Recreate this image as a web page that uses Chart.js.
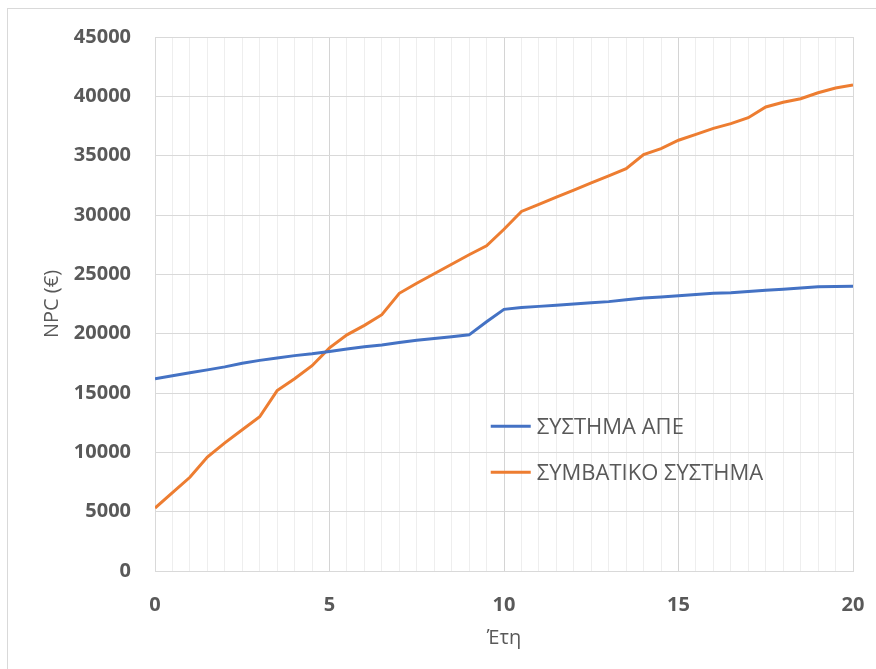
<!DOCTYPE html>
<html>
<head>
<meta charset="utf-8">
<script src="https://cdn.jsdelivr.net/npm/chart.js@4"></script>
<style>
  body { margin: 0; background: #fff; }
  #wrap { position: relative; width: 876px; height: 669px; }
  #frame { position: absolute; left: 7px; top: 8px; width: 880px; height: 680px; border: 1px solid #d9d9d9; pointer-events: none; }
</style>
</head>
<body>
<div id="wrap">
  <canvas id="chart" width="876" height="669"></canvas>
  <div id="frame"></div>
</div>
<script>
// years, every half year
const years = [0, 0.5, 1, 1.5, 2, 2.5, 3, 3.5, 4, 4.5, 5, 5.5, 6, 6.5, 7, 7.5, 8, 8.5, 9, 9.5,
  10, 10.5, 11, 11.5, 12, 12.5, 13, 13.5, 14, 14.5, 15, 15.5, 16, 16.5, 17, 17.5, 18, 18.5, 19, 19.5, 20];

const npcApe = [16200, 16450, 16700, 16950, 17200, 17500, 17750, 17950, 18150, 18300,
  18500, 18700, 18900, 19050, 19250, 19450, 19600, 19750, 19900, 21000,
  22050, 22200, 22300, 22400, 22500, 22600, 22700, 22850, 23000, 23100,
  23200, 23300, 23400, 23450, 23550, 23650, 23750, 23850, 23950, 23980, 24000];

const npcConv = [5300, 6600, 7900, 9600, 10800, 11900, 13000, 15200, 16200, 17300,
  18800, 19900, 20700, 21600, 23400, 24250, 25050, 25850, 26650, 27400,
  28800, 30300, 30900, 31500, 32100, 32700, 33300, 33900, 35100, 35600,
  36300, 36800, 37300, 37700, 38200, 39100, 39500, 39800, 40300, 40700, 40950];

const seriesNames = ["ΣΥΣΤΗΜΑ ΑΠΕ", "ΣΥΜΒΑΤΙΚΟ ΣΥΣΤΗΜΑ"];
const seriesColors = ["#4472C4", "#ED7D31"];

const textColor = "#595959";
const fontFam = "'Open Sans', 'Liberation Sans', sans-serif";

// legend drawn inside the plot, like the original
const insideLegend = {
  id: "insideLegend",
  afterDraw(chart) {
    const ctx = chart.ctx;
    const area = chart.chartArea;
    const x0 = area.left + (area.right - area.left) * 0.481;
    const y0 = area.top + (area.bottom - area.top) * 0.729;
    ctx.save();
    ctx.font = "22px " + fontFam;
    ctx.textBaseline = "middle";
    ctx.textAlign = "left";
    chart.data.datasets.forEach((ds, i) => {
      const y = y0 + i * 46;
      ctx.strokeStyle = ds.borderColor;
      ctx.lineWidth = 3;
      ctx.beginPath();
      ctx.moveTo(x0, y);
      ctx.lineTo(x0 + 40, y);
      ctx.stroke();
      ctx.fillStyle = textColor;
      ctx.fillText(ds.label, x0 + 46, y + 1);
    });
    ctx.restore();
  }
};

// top / right border of the plot
const plotBorder = {
  id: "plotBorder",
  beforeDatasetsDraw(chart) {
    const ctx = chart.ctx;
    const a = chart.chartArea;
    ctx.save();
    ctx.strokeStyle = "#d9d9d9";
    ctx.lineWidth = 1;
    ctx.strokeRect(a.left + 0.5, a.top + 0.5, a.right - a.left, a.bottom - a.top);
    ctx.restore();
  }
};

new Chart(document.getElementById("chart"), {
  type: "line",
  data: {
    datasets: [
      {
        label: seriesNames[0],
        data: years.map((y, i) => ({ x: y, y: npcApe[i] })),
        borderColor: seriesColors[0],
        backgroundColor: seriesColors[0],
        borderWidth: 3,
        pointRadius: 0,
        tension: 0,
        fill: false
      },
      {
        label: seriesNames[1],
        data: years.map((y, i) => ({ x: y, y: npcConv[i] })),
        borderColor: seriesColors[1],
        backgroundColor: seriesColors[1],
        borderWidth: 3,
        pointRadius: 0,
        tension: 0,
        fill: false
      }
    ]
  },
  options: {
    responsive: false,
    animation: false,
    layout: { padding: { left: 10, right: 23, top: 37, bottom: 10 } },
    plugins: {
      legend: { display: false },
      tooltip: { enabled: false }
    },
    scales: {
      x: {
        type: "linear",
        min: 0,
        max: 20,
        afterFit(scale) {
          scale.height = 88;
          scale.paddingLeft = 0;
          scale.paddingRight = 0;
        },
        grid: {
          drawTicks: false,
          color: c => (c.tick && c.tick.value % 5 === 0) ? "#d4d4d4" : "#eeeeee",
          lineWidth: 1
        },
        border: { color: "#bfbfbf", width: 1 },
        ticks: {
          stepSize: 0.5,
          autoSkip: false,
          maxRotation: 0,
          padding: 22,
          color: textColor,
          font: { family: fontFam, size: 20, weight: "bold" },
          callback: v => (v % 5 === 0 ? String(v) : "")
        },
        title: {
          display: true,
          text: "Έτη",
          color: textColor,
          font: { family: fontFam, size: 20 },
          padding: { top: 0, bottom: 9 }
        }
      },
      y: {
        min: 0,
        max: 45000,
        afterFit(scale) { scale.width = 145; },
        grid: { drawTicks: false, color: "#d9d9d9", lineWidth: 1 },
        border: { color: "#bfbfbf", width: 1 },
        ticks: {
          stepSize: 5000,
          padding: 24,
          color: textColor,
          font: { family: fontFam, size: 20, weight: "bold" },
          callback: v => String(v)
        },
        title: {
          display: true,
          text: "NPC (€)",
          color: textColor,
          font: { family: fontFam, size: 20 },
          padding: { top: 30, bottom: 0 }
        }
      }
    }
  },
  plugins: [plotBorder, insideLegend]
});
</script>
</body>
</html>
